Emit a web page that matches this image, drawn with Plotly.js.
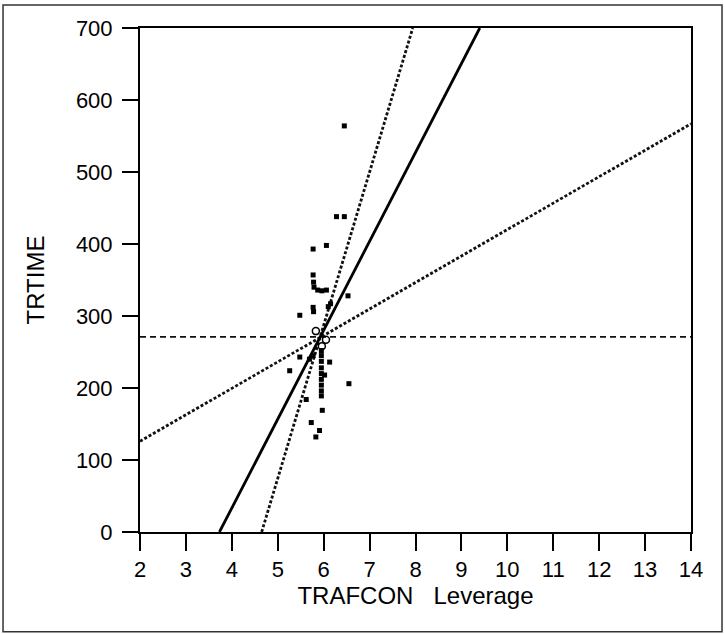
<!DOCTYPE html>
<html>
<head>
<meta charset="utf-8">
<script src="https://cdn.plot.ly/plotly-3.0.1.min.js"></script>
<style>
  html, body { margin: 0; padding: 0; background: #ffffff; }
  #chart { width: 725px; height: 634px; }
</style>
</head>
<body>
<div id="chart"></div>
<script>
// Observed points (TRAFCON leverage, TRTIME)
const pointX = [6.45, 6.28, 6.45, 5.77, 6.06, 5.77, 5.78, 5.79, 5.87, 5.96, 6.06, 6.53,
                5.77, 5.78, 6.10, 6.15, 5.48, 5.48, 5.26, 5.69, 5.77,
                5.95, 5.95, 5.95, 5.95, 5.95, 5.95, 5.95, 5.95, 5.95,
                6.02, 6.13, 6.55, 5.62, 5.97, 5.73, 5.91, 5.83];
const pointY = [564, 438, 438, 393, 398, 357, 347, 340, 336, 335, 336, 328,
                312, 306, 313, 317, 301, 243, 224, 240, 245,
                252, 245, 237, 228, 220, 212, 204, 196, 189,
                218, 236, 206, 184, 169, 152, 141, 132];
// Points drawn as open circles near the centre
const openX = [5.83, 6.05, 5.96];
const openY = [279, 267, 258];

// Fitted line end points
const fitX = [3.73, 9.40];
const fitY = [0, 700];
// Confidence curves (appear straight over the plotted range)
const confSteepX = [4.65, 7.94];
const confSteepY = [0, 700];
const confShallowX = [2, 14];
const confShallowY = [126, 567];
// Horizontal reference line at the mean response
const meanX = [2, 14];
const meanY = [271, 271];

const xTicks = [2, 3, 4, 5, 6, 7, 8, 9, 10, 11, 12, 13, 14];
const yTicks = [0, 100, 200, 300, 400, 500, 600, 700];

const FONT = '"Liberation Sans", Arial, sans-serif';

const traces = [
  { x: meanX, y: meanY, mode: 'lines', line: { color: '#111', width: 1.7, dash: '6px,4px' }, hoverinfo: 'skip' },
  { x: confShallowX, y: confShallowY, mode: 'lines', line: { color: '#111', width: 2.8, dash: '3px,2px' }, hoverinfo: 'skip' },
  { x: confSteepX, y: confSteepY, mode: 'lines', line: { color: '#111', width: 2.8, dash: '3px,2px' }, hoverinfo: 'skip' },
  { x: fitX, y: fitY, mode: 'lines', line: { color: '#000', width: 2.8 }, hoverinfo: 'skip' },
  { x: pointX, y: pointY, mode: 'markers', marker: { symbol: 'square', size: 5, color: '#000' } },
  { x: openX, y: openY, mode: 'markers', marker: { symbol: 'circle-open', size: 7, color: '#000', line: { width: 1.5 } } }
];

const layout = {
  width: 725, height: 634,
  margin: { l: 140, r: 34, t: 28, b: 102 },
  paper_bgcolor: '#ffffff', plot_bgcolor: '#ffffff',
  showlegend: false,
  font: { family: FONT, size: 22, color: '#000' },
  xaxis: {
    range: [2, 14], tickvals: xTicks, ticktext: xTicks.map(String),
    ticks: 'outside', ticklen: 17, tickwidth: 2, tickcolor: '#000',
    showline: true, linewidth: 2, linecolor: '#000', mirror: true,
    showgrid: false, zeroline: false,
    tickfont: { family: FONT, size: 22, color: '#000' },
    title: { text: 'TRAFCON\u00a0\u00a0\u00a0Leverage', font: { family: FONT, size: 24, color: '#000' }, standoff: 2 }
  },
  yaxis: {
    range: [0, 700], tickvals: yTicks, ticktext: yTicks.map(String),
    ticks: 'outside', ticklen: 16, tickwidth: 2, tickcolor: '#000',
    showline: true, linewidth: 2, linecolor: '#000', mirror: true,
    showgrid: false, zeroline: false,
    ticklabelstandoff: 5,
    tickfont: { family: FONT, size: 22, color: '#000' },
    title: { text: 'TRTIME', font: { family: FONT, size: 24, color: '#000' }, standoff: 24 }
  },
  shapes: [
    { type: 'rect', xref: 'paper', yref: 'paper',
      x0: -0.2486, x1: 1.0563, y0: -0.198, y1: 1.0456,
      line: { color: '#333', width: 1.5 } }
  ]
};

Plotly.newPlot('chart', traces, layout, { displayModeBar: false, staticPlot: true });
</script>
</body>
</html>
